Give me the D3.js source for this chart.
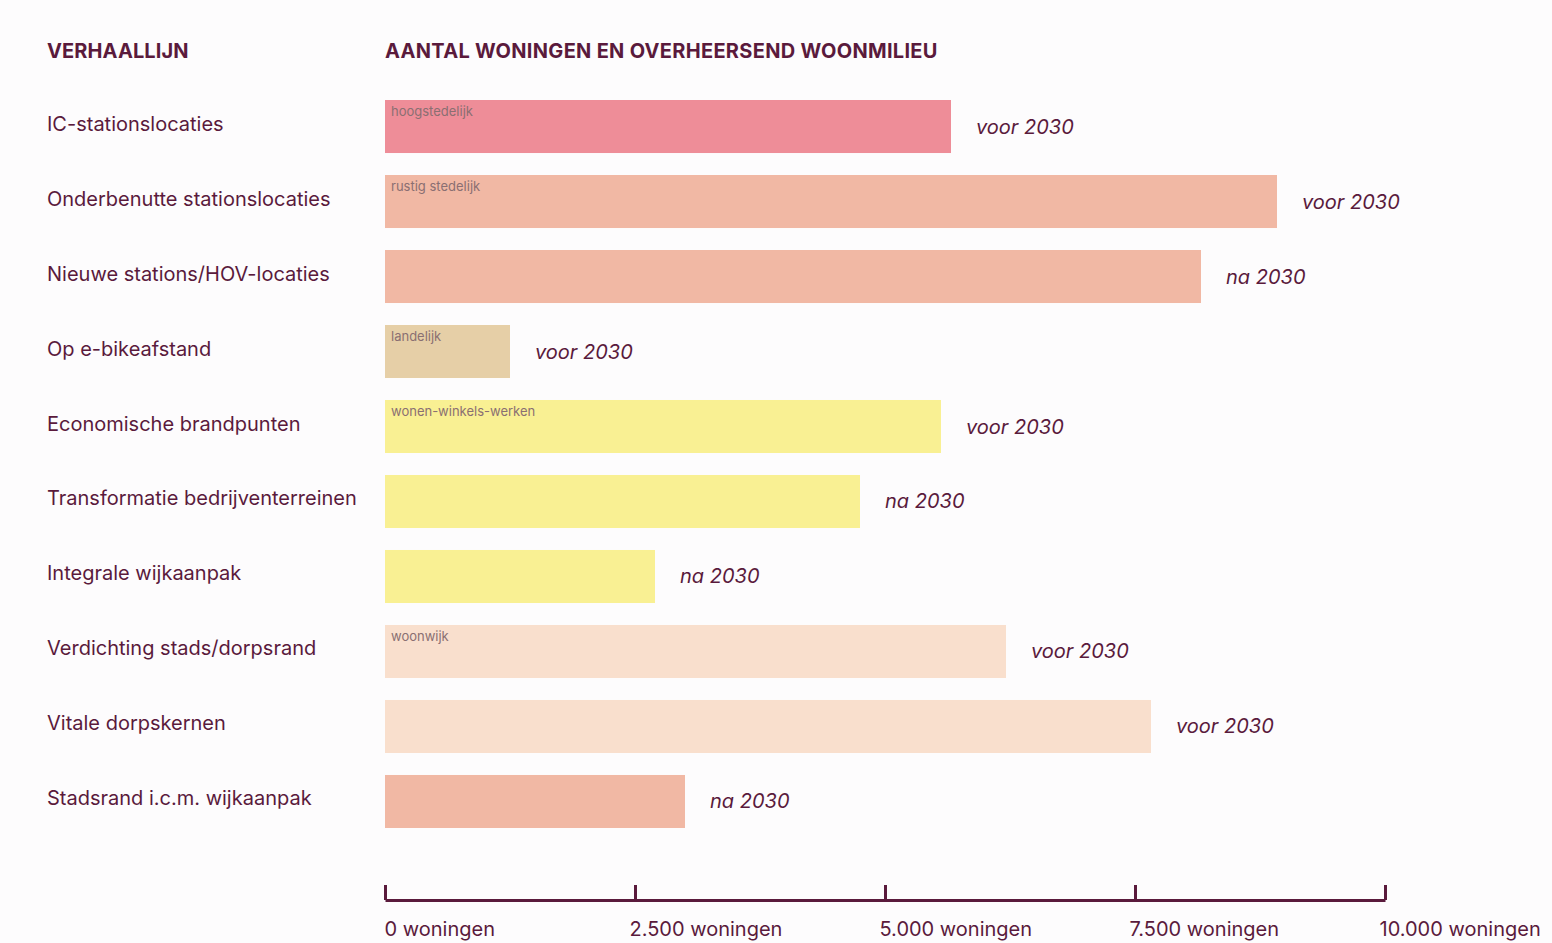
<!DOCTYPE html>
<html>
<head>
<meta charset="utf-8">
<script src="https://cdn.jsdelivr.net/npm/d3@7"></script>
<style>
  html, body { margin: 0; padding: 0; background: #fdfcfd; }
  svg { display: block; font-family: Inter, "Noto Sans", sans-serif; }
</style>
</head>
<body>
<svg id="chart" width="1552" height="943"></svg>
<script>
var categories = [
  "IC-stationslocaties",
  "Onderbenutte stationslocaties",
  "Nieuwe stations/HOV-locaties",
  "Op e-bikeafstand",
  "Economische brandpunten",
  "Transformatie bedrijventerreinen",
  "Integrale wijkaanpak",
  "Verdichting stads/dorpsrand",
  "Vitale dorpskernen",
  "Stadsrand i.c.m. wijkaanpak"
];
var values = [5660, 8920, 8160, 1250, 5560, 4750, 2700, 6210, 7660, 3000];
var timing = ["voor 2030", "voor 2030", "na 2030", "voor 2030", "voor 2030",
              "na 2030", "na 2030", "voor 2030", "voor 2030", "na 2030"];
var milieu = ["hoogstedelijk", "rustig stedelijk", "rustig stedelijk", "landelijk",
              "wonen-winkels-werken", "wonen-winkels-werken", "wonen-winkels-werken",
              "woonwijk", "woonwijk", "rustig stedelijk"];
var barLabels = ["hoogstedelijk", "rustig stedelijk", "", "landelijk",
                 "wonen-winkels-werken", "", "", "woonwijk", "", ""];
var tickValues = [0, 2500, 5000, 7500, 10000];

var milieuColors = {
  "hoogstedelijk": "#ee8d98",
  "rustig stedelijk": "#f1b8a4",
  "landelijk": "#e6cfa7",
  "wonen-winkels-werken": "#f9f093",
  "woonwijk": "#f9dfcd"
};

var dark = "#5a1a3c";
var rows = categories.map(function(c, i) {
  return { name: c, value: values[i], timing: timing[i], milieu: milieu[i], label: barLabels[i] };
});

var svg = d3.select("#chart");

var x = d3.scaleLinear().domain([0, 10000]).range([385, 1385]);
var y = d3.scaleBand().domain(categories).range([100, 828]).paddingInner(0.293).paddingOuter(0);

var nl = d3.formatLocale({ decimal: ",", thousands: ".", grouping: [3], currency: ["€", ""] });
var fmt = nl.format(",");

// koppen
svg.append("text").attr("x", 47).attr("y", 58)
  .attr("fill", dark).attr("font-size", 20).attr("font-weight", 700)
  .attr("letter-spacing", 0.1)
  .text("VERHAALLIJN");
svg.append("text").attr("x", 385).attr("y", 58)
  .attr("fill", dark).attr("font-size", 20).attr("font-weight", 700)
  .attr("letter-spacing", 0.3)
  .text("AANTAL WONINGEN EN OVERHEERSEND WOONMILIEU");

// rijlabels
svg.append("g").selectAll("text").data(rows).join("text")
  .attr("x", 47)
  .attr("y", function(d) { return y(d.name) + y.bandwidth() / 2; })
  .attr("dy", "0.2em")
  .attr("fill", dark).attr("font-size", 20)
  .text(function(d) { return d.name; });

// staven
var bars = svg.append("g").selectAll("g").data(rows).join("g");
bars.append("rect")
  .attr("x", x(0))
  .attr("y", function(d) { return y(d.name); })
  .attr("width", function(d) { return x(d.value) - x(0); })
  .attr("height", y.bandwidth())
  .attr("fill", function(d) { return milieuColors[d.milieu]; });

bars.append("text")
  .attr("x", x(0) + 6)
  .attr("y", function(d) { return y(d.name) + 16; })
  .attr("fill", "#8a6f72").attr("font-size", 13)
  .text(function(d) { return d.label; });

bars.append("text")
  .attr("x", function(d) { return x(d.value) + 25; })
  .attr("y", function(d) { return y(d.name) + y.bandwidth() / 2; })
  .attr("dy", "0.35em")
  .attr("fill", dark).attr("font-size", 20).attr("font-style", "italic")
  .text(function(d) { return d.timing; });

// as
var axis = d3.axisBottom(x)
  .tickValues(tickValues)
  .tickSizeInner(-15)
  .tickSizeOuter(0)
  .tickPadding(22)
  .tickFormat(function(d) { return fmt(d) + " woningen"; });

var gAxis = svg.append("g").attr("transform", "translate(0,900)").call(axis);
gAxis.select(".domain").attr("stroke", dark).attr("stroke-width", 3);
gAxis.selectAll(".tick line").attr("stroke", dark).attr("stroke-width", 3);
gAxis.selectAll(".tick text")
  .attr("text-anchor", "start")
  .attr("dx", function(d) { return d === 0 ? -1 : -6; })
  .attr("fill", dark)
  .attr("font-size", 20)
  .attr("font-family", "Inter, 'Noto Sans', sans-serif");
</script>
</body>
</html>
